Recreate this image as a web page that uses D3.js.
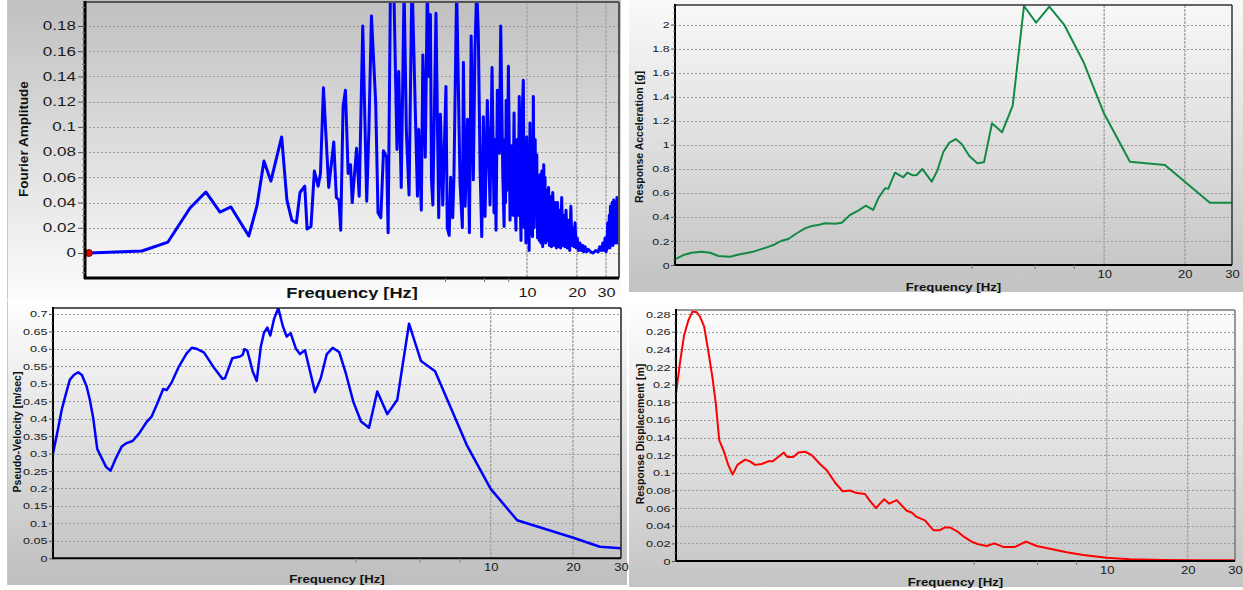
<!DOCTYPE html>
<html><head><meta charset="utf-8">
<script src="https://cdn.jsdelivr.net/npm/d3@7"></script>
<style>body{margin:0;background:#fff;} svg{display:block;} text{font-family:"Liberation Sans",Arial,sans-serif;}</style>
</head><body><svg id="c" width="1243" height="590"></svg>
<script>
// ---------------- DATA ----------------
const fourierFreq = [0.0226,0.0473,0.0679,0.0923,0.115,0.140,0.163,0.209,0.234,0.258,0.284,0.330,0.355,0.380,0.405,0.426,0.455,0.470,0.496,0.520,0.548,0.566,0.590,0.635,0.681,0.706,0.732,0.750,0.775,0.801,0.832,0.860,0.880,0.935,0.970,1.019,1.077,1.11,1.15,1.22,1.26,1.31,1.36,1.42,1.45,1.50,1.57,1.64,1.68,1.74,1.81,1.87,1.94,2.02,2.18,2.22,2.30,2.35,2.43,2.50,2.56,2.61,2.65,2.70,2.82,2.93,3.00,3.10,3.24,3.30,3.39,3.46,3.56,3.62,3.76,3.94,4.07,4.13,4.23,4.37,4.49,4.60,4.74,4.85,4.97,5.08,5.21,5.33,5.45,5.58,5.76,5.98,6.15,6.32,6.40,6.50,6.62,6.81,6.94,7.14,7.27,7.36,7.42,7.48,7.60,7.72,7.90,8.00,8.09,8.22,8.35,8.47,8.58,8.66,8.74,8.86,8.98,9.10,9.20,
  9.35,9.50,9.62,9.73,9.85,9.96,10.07,10.18,10.30,10.42,10.55,10.67,10.80,10.92,11.05,11.20,11.33,11.45,11.58,11.70,11.85,11.98,12.12,12.28,12.44,12.62,12.75,12.84,12.97,13.1,13.3,13.5,13.65,13.8,14.05,14.3,14.55,14.8,15.05,15.3,15.5,15.7,15.95,16.2,16.4,16.6,16.9,17.2,17.5,17.8,18.1,18.4,18.65,18.9,19.2,19.5,19.8,20.1,20.5,20.9,21.3,21.7,22.0,22.4,22.9,23.4,24.2,25.1,26.0,26.9,27.5,28.2,28.7,29.2,29.6,30.0,30.4,30.7,31.0,31.4,31.6,31.9,32.3,32.7,33.0,33.4,33.8,34.2,34.5,34.9,35.2,35.4,35.8];
const fourierAmp = [0,0.0016,0.0087,0.0357,0.0484,0.0325,0.0365,0.0135,0.0373,0.073,0.057,0.092,0.042,0.026,0.024,0.048,0.053,0.019,0.021,0.065,0.053,0.063,0.131,0.052,0.088,0.044,0.042,0.018,0.116,0.129,0.063,0.070,0.040,0.083,0.045,0.180,0.041,0.098,0.188,0.119,0.032,0.028,0.081,0.076,0.016,0.22,0.21,0.082,0.144,0.052,0.21,0.095,0.046,0.22,0.045,0.098,0.034,0.157,0.076,0.21,0.140,0.189,0.058,0.038,0.190,0.028,0.110,0.038,0.132,0.020,0.014,0.060,0.028,0.060,0.21,0.056,0.020,0.151,0.037,0.106,0.016,0.172,0.058,0.161,0.21,0.175,0.066,0.013,0.108,0.029,0.121,0.038,0.147,0.032,0.090,0.018,0.129,0.079,0.180,0.063,0.021,0.090,0.040,0.121,0.050,0.148,0.026,0.085,0.063,0.030,0.111,0.040,0.018,0.070,0.090,0.030,0.124,0.040,0.010,
  0.110,0.137,0.020,0.062,0.008,0.092,0.012,0.060,0.002,0.103,0.015,0.080,0.013,0.124,0.020,0.090,0.030,0.078,0.012,0.055,0.010,0.062,0.008,0.065,0.005,0.070,0.010,0.060,0.008,0.050,0.010,0.052,0.006,0.045,0.005,0.048,0.006,0.040,0.004,0.040,0.005,0.034,0.004,0.044,0.006,0.030,0.005,0.034,0.004,0.026,0.002,0.037,0.006,0.020,0.005,0.024,0.004,0.012,0.002,0.008,0.002,0.006,0.001,0.005,0.001,0.003,0.001,0,0.002,0.001,0.005,0.002,0.008,0.002,0.012,0.001,0.004,0.024,0.004,0.030,0.004,0.037,0.006,0.040,0.006,0.042,0.008,0.040,0.008,0.044,0.008,0.040,0.010];

const accelFreq = [0.25,0.2685,0.2885,0.3145,0.338,0.363,0.401,0.437,0.490,0.550,0.582,0.625,0.662,0.712,0.764,0.809,0.857,0.907,0.989,1.048,1.125,1.208,1.287,1.374,1.435,1.520,1.564,1.656,1.779,1.841,1.929,1.996,2.095,2.271,2.383,2.509,2.643,2.790,2.938,3.138,3.361,3.559,3.813,4.155,4.556,5.02,5.57,6.24,7.10,8.36,9.98,12.48,16.86,24.8,30];
const accelValues = [0.047,0.083,0.102,0.111,0.102,0.075,0.069,0.089,0.111,0.147,0.166,0.202,0.216,0.264,0.305,0.324,0.333,0.347,0.344,0.352,0.416,0.452,0.493,0.458,0.555,0.638,0.635,0.768,0.730,0.768,0.746,0.749,0.799,0.693,0.785,0.940,1.018,1.048,1.007,0.907,0.846,0.854,1.179,1.104,1.325,2.155,2.016,2.149,1.997,1.691,1.262,0.859,0.832,0.518,0.518];

const velFreq = [0.25,0.261,0.269,0.277,0.288,0.298,0.309,0.319,0.332,0.341,0.351,0.363,0.377,0.391,0.406,0.425,0.446,0.465,0.489,0.517,0.551,0.574,0.599,0.633,0.652,0.680,0.719,0.771,0.805,0.839,0.892,0.965,1.042,1.066,1.133,1.209,1.237,1.254,1.286,1.346,1.392,1.440,1.480,1.522,1.561,1.610,1.670,1.733,1.792,1.853,1.938,2.004,2.091,2.275,2.387,2.510,2.640,2.793,2.955,3.143,3.353,3.587,3.845,4.185,4.552,5.025,5.56,6.26,8.17,10.0,12.5,20.07,25.1,30];
const velValues = [0.300,0.372,0.425,0.463,0.511,0.525,0.533,0.525,0.492,0.454,0.401,0.313,0.287,0.262,0.251,0.287,0.320,0.330,0.336,0.358,0.391,0.406,0.439,0.485,0.482,0.504,0.546,0.587,0.603,0.600,0.590,0.549,0.514,0.516,0.573,0.578,0.583,0.599,0.595,0.535,0.508,0.605,0.646,0.661,0.638,0.685,0.717,0.666,0.635,0.645,0.600,0.585,0.596,0.476,0.515,0.584,0.603,0.590,0.528,0.448,0.392,0.374,0.478,0.413,0.454,0.672,0.565,0.536,0.325,0.199,0.109,0.059,0.033,0.029];

const dispFreq = [0.25,0.259,0.268,0.278,0.288,0.299,0.307,0.318,0.330,0.342,0.352,0.362,0.377,0.391,0.406,0.423,0.452,0.471,0.492,0.521,0.551,0.572,0.595,0.630,0.648,0.683,0.713,0.755,0.799,0.858,0.909,0.976,1.042,1.109,1.175,1.262,1.309,1.386,1.434,1.488,1.553,1.655,1.803,1.881,1.964,2.108,2.264,2.398,2.502,2.612,2.767,2.927,3.145,3.328,3.577,3.817,4.123,4.558,5.008,5.488,6.15,7.10,8.18,9.99,12.2,16.2,21.6,30];
const dispValues = [0.190,0.226,0.256,0.273,0.283,0.282,0.277,0.266,0.237,0.207,0.177,0.137,0.124,0.109,0.098,0.109,0.115,0.113,0.109,0.110,0.113,0.113,0.117,0.123,0.118,0.118,0.123,0.124,0.120,0.110,0.103,0.089,0.079,0.080,0.077,0.076,0.069,0.060,0.065,0.070,0.065,0.069,0.057,0.055,0.050,0.046,0.035,0.035,0.038,0.038,0.034,0.028,0.022,0.019,0.017,0.020,0.016,0.016,0.022,0.017,0.014,0.010,0.0068,0.0037,0.0019,0.0011,0.0008,0.0008];

const fourierYTicks = [0,0.02,0.04,0.06,0.08,0.1,0.12,0.14,0.16,0.18];
const accelYTicks = [0,0.2,0.4,0.6,0.8,1,1.2,1.4,1.6,1.8,2];
const velYTicks = [0,0.05,0.1,0.15,0.2,0.25,0.3,0.35,0.4,0.45,0.5,0.55,0.6,0.65,0.7];
const dispYTicks = [0,0.02,0.04,0.06,0.08,0.1,0.12,0.14,0.16,0.18,0.2,0.22,0.24,0.26,0.28];
const xTickLabels = [10,20,30];
const xMinorTicks = [3.2,5.5,7.7];

// ---------------- DRAWING ----------------
const svg = d3.select("#c");
const defs = svg.append("defs");
const fmt = d => String(+d.toFixed(4));

function stretch(sel, sx){
  sel.each(function(){
    const l = this.getComputedTextLength();
    if (l > 0) d3.select(this).attr("textLength", l*sx).attr("lengthAdjust","spacingAndGlyphs");
  });
}

function drawPanel(c){
  const g = svg.append("g");
  const gid = "grad"+c.id;
  const lg = defs.append("linearGradient").attr("id",gid).attr("x1",0).attr("y1",0).attr("x2",0).attr("y2",1);
  lg.append("stop").attr("offset","0%").attr("stop-color",c.grad[0]);
  lg.append("stop").attr("offset","100%").attr("stop-color",c.grad[1]);
  g.append("rect").attr("x",c.box[0]).attr("y",c.box[1])
    .attr("width",c.box[2]-c.box[0]).attr("height",c.box[3]-c.box[1])
    .attr("fill",`url(#${gid})`);
  if (c.boxLine) g.append("line").attr("x1",c.box[0]+0.5).attr("x2",c.box[0]+0.5).attr("y1",c.box[1]).attr("y2",c.box[3]).attr("stroke","#c8c8c8");

  const [l,t,r,b] = c.plot;
  const x = d3.scaleLog().domain(c.xDomain).range([l,r]);
  const y = d3.scaleLinear().domain(c.yDomain).range([b,t]);

  g.append("g").selectAll("line").data(c.yTicks.filter(v=>v>c.yDomain[0]+1e-9)).join("line")
    .attr("x1",l).attr("x2",r).attr("y1",d=>Math.round(y(d))+0.5).attr("y2",d=>Math.round(y(d))+0.5)
    .attr("stroke","#9a9a9a").attr("stroke-dasharray","2,2");
  g.append("g").selectAll("line").data(c.vGrid).join("line")
    .attr("x1",d=>x(d)).attr("x2",d=>x(d)).attr("y1",t).attr("y2",b)
    .attr("stroke","#a6a6a6").attr("stroke-width",1.4).attr("stroke-dasharray","3,1");

  const cid = "clip"+c.id;
  defs.append("clipPath").attr("id",cid).append("rect").attr("x",l).attr("y",t).attr("width",r-l).attr("height",b-t);
  const line = d3.line().x((d,i)=>x(c.freq[i])).y(d=>y(d));
  g.append("path").datum(c.vals).attr("d",line).attr("fill","none")
    .attr("stroke",c.color).attr("stroke-width",c.lw).attr("stroke-linejoin","round")
    .attr("clip-path",`url(#${cid})`);
  if (c.dot) g.append("circle").attr("cx",x(c.freq[0])).attr("cy",y(c.vals[0])).attr("r",3.5)
    .attr("fill","#e00000").attr("stroke","#800000").attr("stroke-width",1);

  g.append("line").attr("x1",l).attr("x2",r).attr("y1",t).attr("y2",t).attr("stroke",c.topColor).attr("stroke-width",c.topW);
  g.append("line").attr("x1",r).attr("x2",r).attr("y1",t).attr("y2",b).attr("stroke",c.topColor).attr("stroke-width",c.topW);
  g.append("line").attr("x1",l).attr("x2",l).attr("y1",t-1).attr("y2",b+1).attr("stroke","#000").attr("stroke-width",c.axisW);
  g.append("line").attr("x1",l-1).attr("x2",r).attr("y1",b).attr("y2",b).attr("stroke","#000").attr("stroke-width",c.axisW);

  const ya = g.append("g").attr("transform",`translate(${l},0)`)
    .call(d3.axisLeft(y).tickValues(c.yTicks).tickFormat(fmt).tickSize(c.yTickLen).tickPadding(c.yPad));
  ya.select(".domain").remove();
  ya.selectAll("line").attr("stroke","#555");
  ya.selectAll("text").style("font-size",c.yFont+"px").attr("fill","#1a1a1a").style("font-family","'Liberation Sans',Arial,sans-serif");
  stretch(ya.selectAll("text"), c.ySx);
  const ym = g.append("g").attr("transform",`translate(${l},0)`)
    .call(d3.axisLeft(y).tickValues(c.yMinor).tickFormat("").tickSize(c.yMinorLen));
  ym.select(".domain").remove();
  ym.selectAll("line").attr("stroke","#777");

  const xa = g.append("g").attr("transform",`translate(0,${b})`)
    .call(d3.axisBottom(x).tickValues(xTickLabels).tickFormat(d3.format("d")).tickSize(0).tickPadding(c.xPad));
  xa.select(".domain").remove();
  xa.selectAll("text").style("font-size",c.xFont+"px").attr("fill","#1a1a1a").style("font-family","'Liberation Sans',Arial,sans-serif");
  stretch(xa.selectAll("text"), c.xSx);
  const xm = g.append("g").attr("transform",`translate(0,${b})`)
    .call(d3.axisBottom(x).tickValues(xMinorTicks).tickFormat("").tickSize(4));
  xm.select(".domain").remove();
  xm.selectAll("line").attr("stroke","#777");

  const xt = g.append("text").attr("x",(l+r)/2).attr("y",c.xTitleY).attr("text-anchor","middle")
    .style("font-size",c.xTitleFont+"px").style("font-weight","bold").attr("fill","#111").text("Frequency [Hz]");
  stretch(xt, c.xTitleSx);
  g.append("text").attr("transform",`translate(${c.yTitlePos[0]},${c.yTitlePos[1]}) rotate(-90)`)
    .attr("text-anchor","middle").attr("dominant-baseline","central")
    .style("font-size",c.yTitleFont+"px").style("font-weight","bold").attr("fill","#111").text(c.yTitle);
}

drawPanel({
  id:1, box:[7,0,621,299], grad:["#c0c0c0","#fcfcfc"], boxLine:true,
  plot:[85,2,619,278], xDomain:[0.02143,35.93], yDomain:[-0.0198,0.199],
  freq:fourierFreq, vals:fourierAmp, color:"#0000ff", lw:3, dot:true,
  yTicks:fourierYTicks, yMinor:d3.range(-0.015,0.199,0.005).filter(v=>Math.abs(v/0.02-Math.round(v/0.02))>0.01),
  yTickLen:7, yMinorLen:3, yPad:2, yFont:12, ySx:1.42,
  vGrid:[10,20,30], xPad:10, xFont:13, xSx:1.25,
  topColor:"#555", topW:2, axisW:3,
  xTitleY:298, xTitleFont:14, xTitleSx:1.3,
  yTitle:"Fourier Amplitude", yTitlePos:[23,139], yTitleFont:13.5
});

drawPanel({
  id:2, box:[629,0,1243,292], grad:["#f9f9f9","#c2c2c2"],
  plot:[675,5,1232,265], xDomain:[0.25,30], yDomain:[0,2.163],
  freq:accelFreq, vals:accelValues, color:"#128a46", lw:2,
  yTicks:accelYTicks, yMinor:d3.range(0.05,2.16,0.05),
  yTickLen:4, yMinorLen:2, yPad:1.5, yFont:9.5, ySx:1.3,
  vGrid:[10,20], xPad:6, xFont:10, xSx:1.3,
  topColor:"#333", topW:1.5, axisW:2,
  xTitleY:291, xTitleFont:11, xTitleSx:1.2,
  yTitle:"Response Acceleration [g]", yTitlePos:[639,137], yTitleFont:10.5
});

drawPanel({
  id:3, box:[7,300,627,585], grad:["#ffffff","#bebebe"], boxLine:true,
  plot:[53,308,621,558.3], xDomain:[0.25,30], yDomain:[0,0.717],
  freq:velFreq, vals:velValues, color:"#0000ff", lw:2.5,
  yTicks:velYTicks, yMinor:d3.range(0.025,0.716,0.05),
  yTickLen:4, yMinorLen:2, yPad:1.5, yFont:9.5, ySx:1.33,
  vGrid:[10,20], xPad:6, xFont:10, xSx:1.3,
  topColor:"#222", topW:1.5, axisW:2,
  xTitleY:583, xTitleFont:11, xTitleSx:1.2,
  yTitle:"Pseudo-Velocity [m/sec]", yTitlePos:[17,432], yTitleFont:10.5
});

drawPanel({
  id:4, box:[629,300,1243,587], grad:["#ffffff","#c4c4c4"],
  plot:[676,310,1235,561], xDomain:[0.25,30], yDomain:[0,0.2846],
  freq:dispFreq, vals:dispValues, color:"#ff0000", lw:2,
  yTicks:dispYTicks, yMinor:d3.range(0.01,0.284,0.02),
  yTickLen:4, yMinorLen:2, yPad:1.5, yFont:9.5, ySx:1.33,
  vGrid:[10,20], xPad:6, xFont:10, xSx:1.3,
  topColor:"#777", topW:1.5, axisW:2,
  xTitleY:586, xTitleFont:11, xTitleSx:1.2,
  yTitle:"Response Displacement [m]", yTitlePos:[640,434], yTitleFont:10.5
});
</script>
</body></html>
